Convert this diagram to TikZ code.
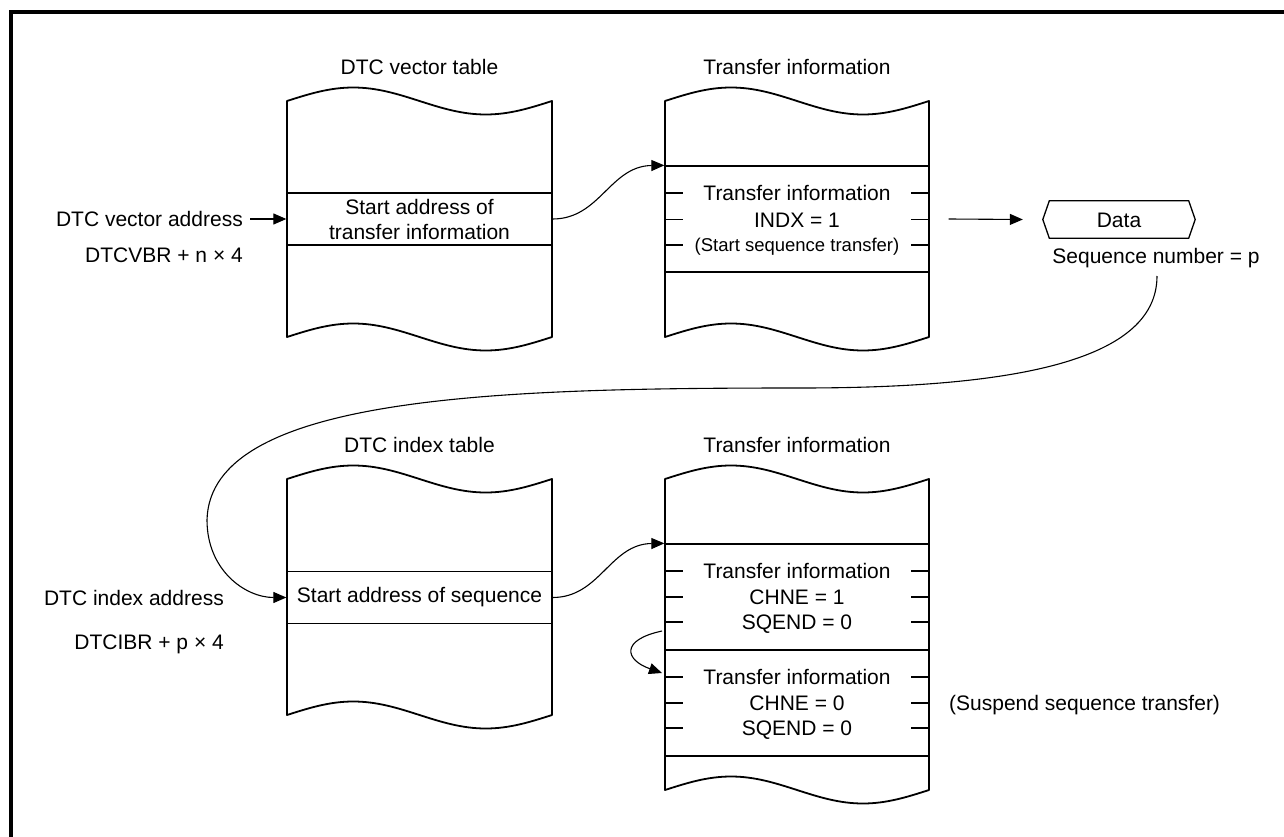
\documentclass[tikz,border=0pt]{standalone}
\usepackage{fontspec}
\setmainfont{Liberation Sans}
\usetikzlibrary{arrows.meta}
\newcommand\tapebox[4]{%
 \draw[outline] (#1,#3) sin ({#1+(#2-#1)/4},{#3-13.5}) cos ({(#1+#2)/2},#3)
   sin ({#1+3*(#2-#1)/4},{#3+13.5}) cos (#2,#3) -- (#2,#4)
   sin ({#1+3*(#2-#1)/4},{#4+13.5}) cos ({(#1+#2)/2},#4)
   sin ({#1+(#2-#1)/4},{#4-13.5}) cos (#1,#4) -- cycle;}
\begin{document}
\begin{tikzpicture}[x=1pt,y=-1pt,
  outline/.style={line width=1.8pt, line join=round},
  rowbox/.style={draw, line width=1.3pt, inner sep=0pt, align=center, font=\fontsize{21}{25}\selectfont},
  tick/.style={line width=1.3pt},
  conn/.style={line width=1.1pt, -{Triangle[length=13pt,width=11pt]}},
  lbl/.style={font=\fontsize{21}{25}\selectfont, inner sep=0pt, text height=15pt, text depth=0pt},
  smalllbl/.style={font=\fontsize{18.5}{22}\selectfont, inner sep=0pt, text height=13.2pt, text depth=0pt},
]
\useasboundingbox (0,0) rectangle (1284,837);
\draw[line width=4pt] (11,850) -- (11,12) -- (1300,12);

% titles
\node[lbl] (t1title) at (419.5,67) {DTC vector table};
\node[lbl] (t2title) at (797,67) {Transfer information};
\node[lbl] (t3title) at (419.5,445) {DTC index table};
\node[lbl] (t4title) at (797,445) {Transfer information};

% table 1
\tapebox{287}{552}{101}{337}
\node[rowbox, minimum width=265pt, minimum height=52pt] (vrow) at (419.5,219) {Start address of\\transfer information};
\node[lbl, anchor=east] (va) at (243,219) {DTC vector address};
\node[lbl, anchor=east] (vb) at (243,255) {DTCVBR + n × 4};
\draw[conn, shorten <=7pt] (va.east) -- (vrow.west);

% table 2
\tapebox{665}{929}{101}{337}
\node[rowbox, minimum width=264pt, minimum height=106pt] (t2row) at (797,219) {};
\node[lbl] (t2a) at (797,193) {Transfer information};
\node[lbl] (t2b) at (797,219.5) {INDX = 1};
\node[smalllbl] (t2c) at (797,245) {(Start sequence transfer)};
\foreach \y in {193,219.5,245} {
  \draw[tick] (665,\y) -- (683,\y);
  \draw[tick] (911,\y) -- (929,\y);
}
\draw[conn] (vrow.east) .. controls (600,219) and (610,166) .. (t2row.north west);

% data
\node[lbl, minimum width=139pt, minimum height=37pt] (data) at (1119,219.5) {Data};
\draw[tick] (data.north west) -- (data.north east) -- ([xshift=6.5pt]data.east)
  -- (data.south east) -- (data.south west) -- ([xshift=-6.5pt]data.west) -- cycle;
\draw[conn] ([xshift=19pt]t2row.east) -- ([xshift=-26.5pt]data.west);
\node[lbl] (seq) at (1156,256) {Sequence number = p};

% table 3
\tapebox{287}{552}{479}{715}
\node[rowbox, minimum width=265pt, minimum height=52pt] (irow) at (419.5,597.5) {Start address of sequence};
\node[lbl, anchor=east] (ia) at (224,597.5) {DTC index address};
\node[lbl, anchor=east] (ib) at (224,642) {DTCIBR + p × 4};

\coordinate (bigstart) at (1157,276);
\draw[conn] (bigstart) .. controls (1157,365) and (1000,388) .. (800,388)
  .. controls (500,388) and (210,395) .. (207,520)
  .. controls (207,570) and (245,597.5) .. (irow.west);

% table 4
\tapebox{665}{929}{479}{790}
\node[rowbox, minimum width=264pt, minimum height=106pt] (r1) at (797,597) {};
\node[rowbox, minimum width=264pt, minimum height=106pt] (r2) at (797,703) {};
\node[lbl] (r1a) at (797,571) {Transfer information};
\node[lbl] (r1b) at (797,597) {CHNE = 1};
\node[lbl] (r1c) at (797,622) {SQEND = 0};
\node[lbl] (r2a) at (797,677) {Transfer information};
\node[lbl] (r2b) at (797,703) {CHNE = 0};
\node[lbl] (r2c) at (797,728) {SQEND = 0};
\foreach \y in {571,597,622,677,703,728} {
  \draw[tick] (665,\y) -- (683,\y);
  \draw[tick] (911,\y) -- (929,\y);
}
\node[lbl, anchor=west] (susp) at (949,703) {(Suspend sequence transfer)};
\draw[conn] (irow.east) .. controls (600,597.5) and (610,544) .. (r1.north west);
\coordinate (lpA) at (662,631);
\coordinate (lpB) at (662,673);
\draw[conn] (lpA) .. controls (620,640) and (625,660) .. (lpB);
\end{tikzpicture}
\end{document}
